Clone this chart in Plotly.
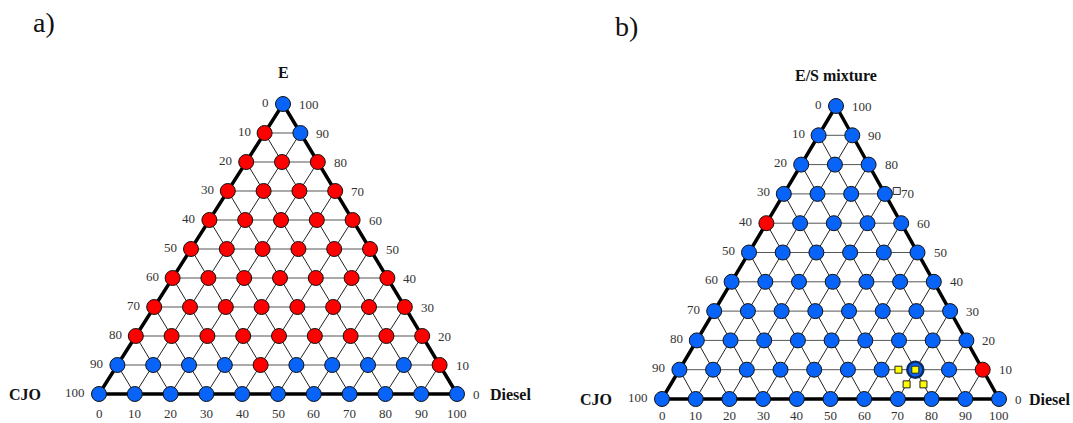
import plotly.graph_objects as go

# ---------------- data ----------------
LEVELS = [0, 10, 20, 30, 40, 50, 60, 70, 80, 90, 100]

# Colour of each grid point, per E-level row, left (Diesel = 0) to right (CJO = 0)
# R = red, B = blue
A_ROWS = {
    100: "B",
    90: "RB",
    80: "RRR",
    70: "RRRR",
    60: "RRRRR",
    50: "RRRRRR",
    40: "RRRRRRR",
    30: "RRRRRRRR",
    20: "RRRRRRRRR",
    10: "BBBBRBBBBR",
    0: "BBBBBBBBBBB",
}
B_ROWS = {
    100: "B",
    90: "BB",
    80: "BBB",
    70: "BBBB",
    60: "RBBBB",
    50: "BBBBBB",
    40: "BBBBBBB",
    30: "BBBBBBBB",
    20: "BBBBBBBBB",
    10: "BBBBBBBBBR",
    0: "BBBBBBBBBBB",
}
# highlighted grid point in b) (E, Diesel, CJO)
B_HIGHLIGHT = [(10, 70, 20)]
# yellow squares in b) (E, Diesel, CJO)
B_YELLOW_E = [10, 10, 5, 5]
B_YELLOW_D = [65, 70, 70, 75]
B_YELLOW_C = [25, 20, 25, 20]
# open square in b)
B_OPEN_E = [71]
B_OPEN_D = [33]
B_OPEN_C = [-4]

TITLES = ["E", "E/S mixture"]
PANEL_LABELS = ["a)", "b)"]

# ---------------- layout / geometry (style) ----------------
W, H = 1073, 423
PANELS = [
    dict(top=(283, 104), bl=(99, 394), br=(457, 394), rows=A_ROWS, title=TITLES[0],
         lab=PANEL_LABELS[0], lab_xy=(44, 22), cjo_dx=-56, dsl_dx=31, title_dy=-32, bot_dy=19),
    dict(top=(836, 106), bl=(662, 399), br=(999, 399), rows=B_ROWS, title=TITLES[1],
         lab=PANEL_LABELS[1], lab_xy=(626, 26), cjo_dx=-48, dsl_dx=28, title_dy=-31, bot_dy=16),
]
BLUE = "#0864f8"
RED = "#ff0000"
SERIF = "Liberation Serif"

fig = go.Figure()
annotations = []


def xy(p, E, D, C):
    x = (E * p["top"][0] + D * p["br"][0] + C * p["bl"][0]) / 100.0
    y = (E * p["top"][1] + D * p["br"][1] + C * p["bl"][1]) / 100.0
    return x, y


for p in PANELS:
    # grid lines
    hx, hy, dx_, dy_ = [], [], [], []
    for v in LEVELS[1:-1]:
        # constant E
        a = xy(p, v, 0, 100 - v); b = xy(p, v, 100 - v, 0)
        hx += [a[0], b[0], None]; hy += [a[1], b[1], None]
        # constant Diesel
        a = xy(p, 0, v, 100 - v); b = xy(p, 100 - v, v, 0)
        dx_ += [a[0], b[0], None]; dy_ += [a[1], b[1], None]
        # constant CJO
        a = xy(p, 0, 100 - v, v); b = xy(p, 100 - v, 0, v)
        dx_ += [a[0], b[0], None]; dy_ += [a[1], b[1], None]
    fig.add_trace(go.Scatter(x=dx_, y=dy_, mode="lines",
                             line=dict(color="#222222", width=1), hoverinfo="skip"))
    fig.add_trace(go.Scatter(x=hx, y=hy, mode="lines",
                             line=dict(color="#555555", width=1), hoverinfo="skip"))
    # border
    c = [xy(p, 100, 0, 0), xy(p, 0, 100, 0), xy(p, 0, 0, 100), xy(p, 100, 0, 0)]
    fig.add_trace(go.Scatter(x=[q[0] for q in c], y=[q[1] for q in c], mode="lines",
                             line=dict(color="black", width=3.5), hoverinfo="skip"))
    # points
    px, py, pc = [], [], []
    for E, row in p["rows"].items():
        for i, ch in enumerate(row):
            D = 10 * i
            C = 100 - E - D
            x, y = xy(p, E, D, C)
            px.append(x); py.append(y)
            pc.append(RED if ch == "R" else BLUE)
    fig.add_trace(go.Scatter(x=px, y=py, mode="markers",
                             marker=dict(size=15, color=pc, line=dict(color="#111111", width=1)),
                             hoverinfo="skip"))
    # tick labels
    for v in LEVELS:
        # left side: CJO value
        x, y = xy(p, 100 - v, 0, v)
        annotations.append(dict(x=x, y=y, text=str(v), showarrow=False, xanchor="right",
                                yanchor="middle", xshift=-12, yshift=2,
                                font=dict(family=SERIF, size=13, color="#333333")))
        # right side: E value
        x, y = xy(p, v, 100 - v, 0)
        annotations.append(dict(x=x, y=y, text=str(v), showarrow=False, xanchor="left",
                                yanchor="middle", xshift=14, yshift=0,
                                font=dict(family=SERIF, size=13, color="#333333")))
        # bottom: Diesel value
        x, y = xy(p, 0, v, 100 - v)
        annotations.append(dict(x=x, y=y, text=str(v), showarrow=False, xanchor="center",
                                yanchor="middle", yshift=-p["bot_dy"],
                                font=dict(family=SERIF, size=13, color="#333333")))
    # titles
    tx, ty = xy(p, 100, 0, 0)
    annotations.append(dict(x=tx, y=ty, text="<b>%s</b>" % p["title"], showarrow=False,
                            yshift=-p["title_dy"], xanchor="center", yanchor="middle",
                            font=dict(family=SERIF, size=16, color="#111111")))
    bx, by = xy(p, 0, 0, 100)
    annotations.append(dict(x=bx, y=by, text="<b>CJO</b>", showarrow=False,
                            xshift=p["cjo_dx"], xanchor="right", yanchor="middle",
                            font=dict(family=SERIF, size=16, color="#111111")))
    rx, ry = xy(p, 0, 100, 0)
    annotations.append(dict(x=rx, y=ry, text="<b>Diesel</b>", showarrow=False,
                            xshift=p["dsl_dx"], xanchor="left", yanchor="middle",
                            font=dict(family=SERIF, size=16, color="#111111")))
    annotations.append(dict(x=p["lab_xy"][0], y=p["lab_xy"][1], text=p["lab"], showarrow=False,
                            xanchor="center", yanchor="middle",
                            font=dict(family=SERIF, size=28, color="#111111")))

# extra markers in b)
pb = PANELS[1]
hl = [xy(pb, *t) for t in B_HIGHLIGHT]
fig.add_trace(go.Scatter(x=[q[0] for q in hl], y=[q[1] for q in hl], mode="markers",
                         marker=dict(size=16, color=BLUE, line=dict(color="#0a2a60", width=2.5)),
                         hoverinfo="skip"))
yl = [xy(pb, e, d, c) for e, d, c in zip(B_YELLOW_E, B_YELLOW_D, B_YELLOW_C)]
fig.add_trace(go.Scatter(x=[q[0] for q in yl], y=[q[1] for q in yl], mode="markers",
                         marker=dict(symbol="square", size=7, color="#ffff00",
                                     line=dict(color="#222222", width=1)),
                         hoverinfo="skip"))
op = [xy(pb, e, d, c) for e, d, c in zip(B_OPEN_E, B_OPEN_D, B_OPEN_C)]
fig.add_trace(go.Scatter(x=[q[0] for q in op], y=[q[1] for q in op], mode="markers",
                         marker=dict(symbol="square", size=7, color="#eeeef8",
                                     line=dict(color="#333333", width=1)),
                         hoverinfo="skip"))

fig.update_layout(
    width=W, height=H, margin=dict(l=0, r=0, t=0, b=0),
    paper_bgcolor="white", plot_bgcolor="white", showlegend=False,
    font=dict(family=SERIF),
    xaxis=dict(range=[0, W], visible=False, fixedrange=True),
    yaxis=dict(range=[H, 0], visible=False, fixedrange=True),
    annotations=annotations,
)
fig.write_html("out.html")
